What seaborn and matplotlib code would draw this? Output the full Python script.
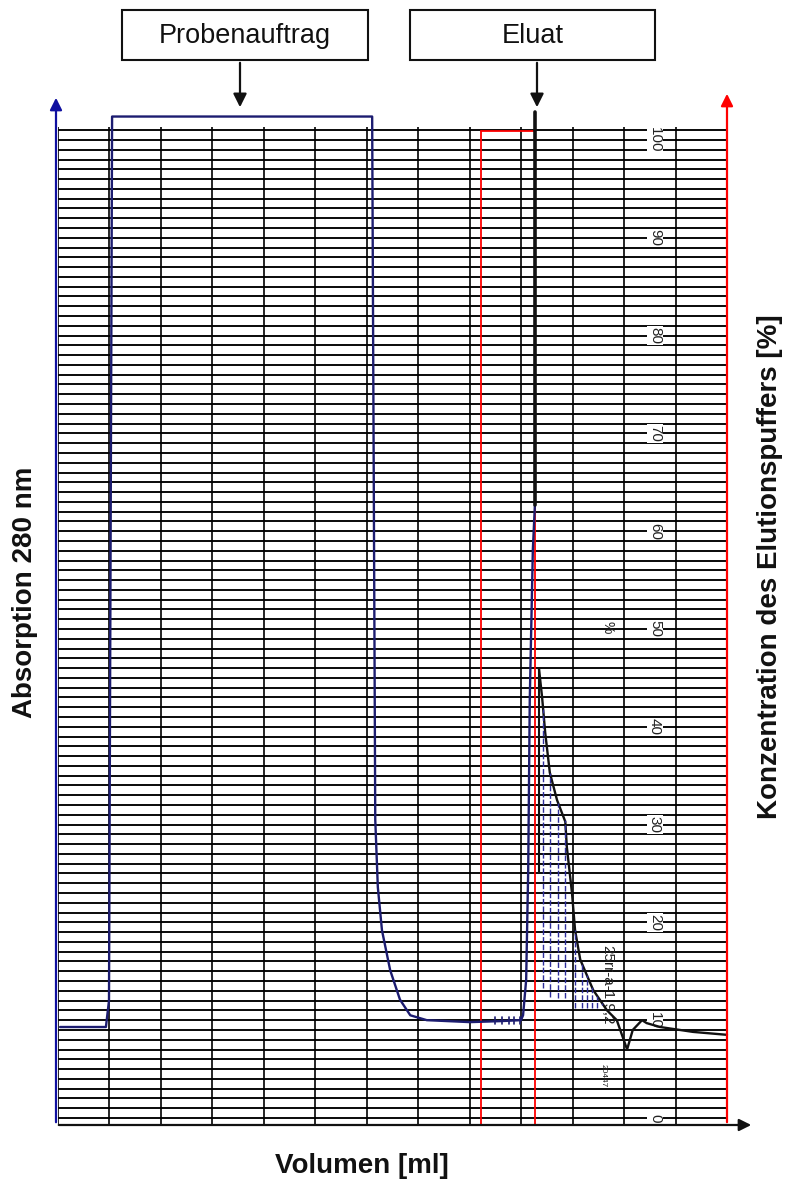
import matplotlib
matplotlib.use("Agg")
import matplotlib.pyplot as plt
from matplotlib.patches import Rectangle, FancyArrowPatch
import numpy as np
import pandas as pd
import seaborn as sns

sns.set_theme(style="white")
plt.rcParams['font.family'] = ['Liberation Sans', 'DejaVu Sans']

# x = volume in chart divisions, y = recorder scale (0-100)
load_vol = [0.05, 0.94, 1.00, 1.06, 6.11, 6.17, 6.22, 6.30, 6.46, 6.65, 6.85, 7.17,
            8.01, 8.59, 9.00, 9.04, 9.10, 9.14, 9.17, 9.23, 9.27]
load_abs = [9.3, 9.3, 12.0, 102.4, 102.4, 30.5, 23.6, 19.2, 15.1, 12.1, 10.5, 10.0,
            9.8, 9.9, 10.0, 10.5, 14.1, 25.4, 42.7, 58.1, 62.7]

peak_vol = [9.35, 9.41, 9.47, 9.56, 9.70, 9.86, 9.89, 9.99, 10.05, 10.15, 10.40, 10.67,
            10.86, 11.06, 11.17, 11.35, 11.44, 11.70, 12.34, 13.0]
peak_abs = [45.9, 43.0, 39.4, 35.3, 32.5, 30.3, 27.7, 23.0, 19.2, 16.2, 13.1, 11.0,
            10.0, 7.0, 9.0, 10.0, 9.7, 9.3, 8.8, 8.5]

# fraction hatching below the peak
frac_vol = [9.43, 9.56, 9.72, 9.85, 10.05, 10.18, 10.28, 10.38, 10.48, 10.57]
frac_bottom = [13.3, 12.4, 12.3, 12.3, 11.2, 11.2, 11.2, 11.2, 11.2, 11.6]

# small fraction ticks on the baseline before the peak
tick_vol = [8.50, 8.63, 8.76, 8.87, 8.98]

scale_labels = [0, 10, 20, 30, 40, 50, 60, 70, 80, 90, 100]
red_marks = [8.22, 9.27]
eluat_mark = 9.27

W, H = 785, 1184
fig = plt.figure(figsize=(W / 100, H / 100), dpi=100)
ax = fig.add_axes([57.5 / W, (H - 1125) / H, (727 - 57.5) / W, (1125 - 127) / H])
ax.set_xlim(0, 13)
ax.set_ylim(-0.72, 101.33)
ax.axis('off')


def fx(px):
    return px / W


def fy(py):
    return 1 - py / H


# recorder paper
for v in range(0, 102):
    ax.axhline(v, color='black', lw=1.35, zorder=1)
for d in range(0, 13):
    ax.axvline(d, color='black', lw=1.2, zorder=1)

for v in scale_labels:
    ax.text(11.60, v, str(v), rotation=-90, ha='center', va='center', fontsize=11,
            color='#222222', zorder=3,
            bbox=dict(facecolor='white', edgecolor='none', pad=0.6))
ax.text(10.67, 50.2, '%', rotation=-90, ha='center', va='center', fontsize=10,
        color='#222222', zorder=3)
ax.text(10.67, 13.6, '25rr-a-1.9,2', rotation=-90, ha='center', va='center',
        fontsize=11, color='#222222', zorder=3)
ax.text(10.59, 4.3, '20447', rotation=-90, ha='center', va='center', fontsize=6,
        color='#222222', zorder=3)

# red marks for the elution window
for xv in red_marks:
    ax.plot([xv, xv], [-0.72, 100.9], color='red', lw=1.3, zorder=2)
ax.plot(red_marks, [100.9, 100.9], color='red', lw=1.3, zorder=2)

# absorption trace
load_df = pd.DataFrame({'vol': load_vol, 'abs': load_abs})
peak_df = pd.DataFrame({'vol': peak_vol, 'abs': peak_abs})
sns.lineplot(data=load_df, x='vol', y='abs', sort=False, estimator=None,
             color='#1c1c70', lw=1.7, ax=ax, zorder=4, clip_on=False)
sns.lineplot(data=peak_df, x='vol', y='abs', sort=False, estimator=None,
             color='#111111', lw=1.7, ax=ax, zorder=4, clip_on=False)
ax.plot([peak_vol[0], peak_vol[0]], [peak_abs[0], 25.0], color='#111111', lw=1.5, zorder=4)
ax.plot([eluat_mark, eluat_mark], [62.7, 102.9], color='#111111', lw=2.6,
        zorder=5, clip_on=False)

frac_top = np.interp(frac_vol, peak_vol, peak_abs)
for xv, top, bot in zip(frac_vol, frac_top, frac_bottom):
    ax.plot([xv, xv], [bot, top], color='#2d2d9a', lw=1.0, ls=(0, (4, 1.5)), zorder=4)
for xv in tick_vol:
    ax.plot([xv, xv], [9.6, 10.3], color='#1c1c70', lw=1.2, zorder=4)

# axis arrows
fig.add_artist(FancyArrowPatch((fx(56), fy(1125)), (fx(56), fy(95)),
                               transform=fig.transFigure, arrowstyle='-|>',
                               mutation_scale=18, color='#1010a0', lw=1.6))
fig.add_artist(FancyArrowPatch((fx(727), fy(1125)), (fx(727), fy(91)),
                               transform=fig.transFigure, arrowstyle='-|>',
                               mutation_scale=18, color='red', lw=1.6))
fig.add_artist(FancyArrowPatch((fx(56), fy(1125)), (fx(754), fy(1125)),
                               transform=fig.transFigure, arrowstyle='-|>',
                               mutation_scale=18, color='#111111', lw=1.6))

# annotation boxes
for (x0, x1, label, ax_x) in [(122, 368, 'Probenauftrag', 240), (410, 655, 'Eluat', 537)]:
    fig.add_artist(Rectangle((fx(x0), fy(60)), (x1 - x0) / W, 50 / H,
                             transform=fig.transFigure, fill=False,
                             edgecolor='#111111', lw=1.5))
    fig.text(fx((x0 + x1) / 2), fy(36), label, ha='center', va='center',
             fontsize=19.5, color='#111111')
    fig.add_artist(FancyArrowPatch((fx(ax_x), fy(60)), (fx(ax_x), fy(110)),
                                   transform=fig.transFigure, arrowstyle='-|>',
                                   mutation_scale=20, color='#111111', lw=1.6))

fig.text(fx(25), fy(592), 'Absorption 280 nm', rotation=90, ha='center', va='center',
         fontsize=20, fontweight='bold', color='#111111')
fig.text(fx(770), fy(567), 'Konzentration des Elutionspuffers [%]', rotation=90,
         ha='center', va='center', fontsize=20, fontweight='bold', color='#111111')
fig.text(fx(362), fy(1166), 'Volumen [ml]', ha='center', va='center',
         fontsize=20, fontweight='bold', color='#111111')

fig.savefig('out.png', dpi=100, facecolor='white')
